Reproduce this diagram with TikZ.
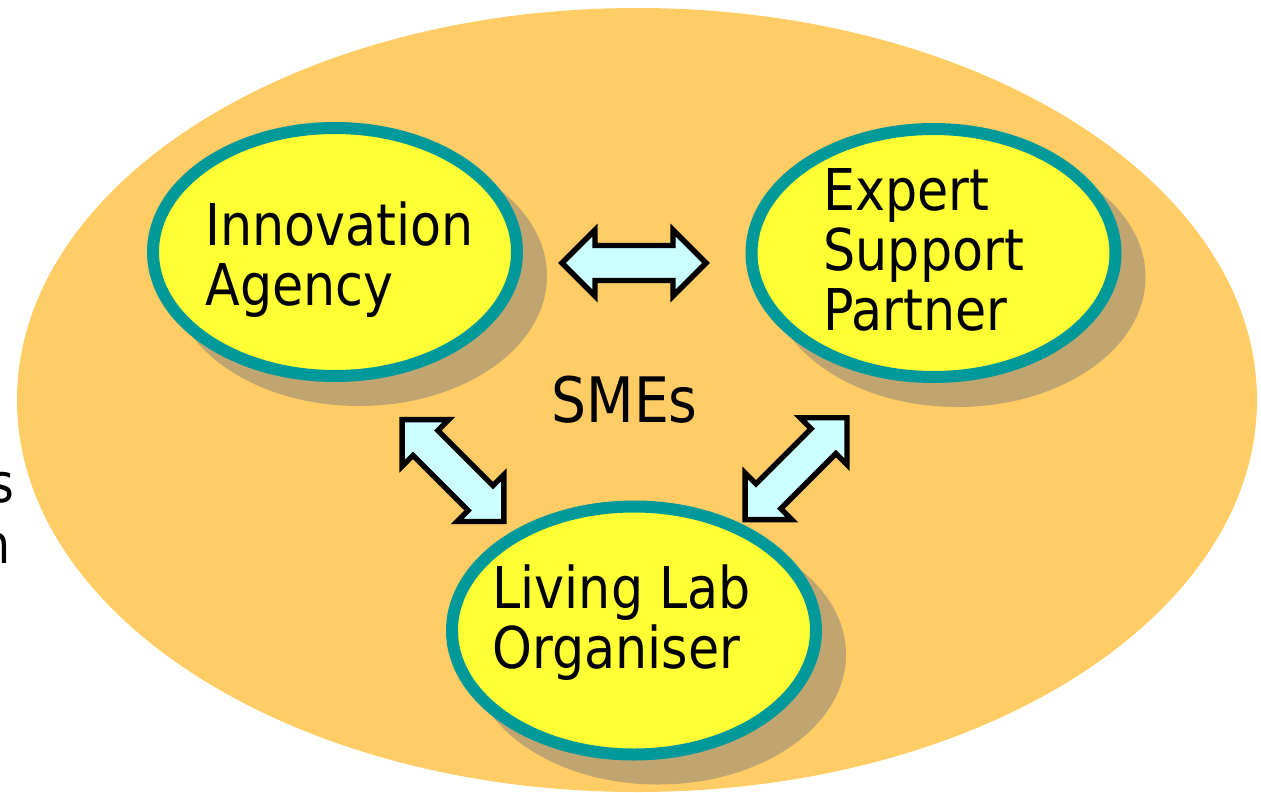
\documentclass[tikz,border=0pt]{standalone}
\usepackage{fontspec}
\setmainfont{DejaVu Sans}[FakeStretch=0.88]
\usetikzlibrary{shapes.geometric,shapes.arrows}

\definecolor{smeorange}{RGB}{255,204,102}
\definecolor{partyellow}{RGB}{255,255,51}
\definecolor{partteal}{RGB}{0,153,153}
\definecolor{shadowtan}{RGB}{193,165,112}
\definecolor{arrowcyan}{RGB}{204,255,255}

\tikzset{every picture/.style={line width=0.75pt}}
\tikzset{
  partner/.style={ellipse, draw=partteal, fill=partyellow, line width=9pt,
    minimum width=273pt, minimum height=186pt, inner sep=0pt},
  lbl/.style={font=\fontsize{43.2}{45}\selectfont, align=left, inner sep=0pt, anchor=base west},
  dblarrow/.style={double arrow, draw=black, fill=arrowcyan, line width=4pt,
    minimum height=108pt, inner sep=0pt, inner ysep=11.15pt,
    double arrow head extend=11.6pt, double arrow tip angle=90}
}

\begin{document}
\begin{tikzpicture}[x=0.75pt,y=0.75pt,yscale=-1,xscale=1]
	\useasboundingbox (0,0) rectangle (1261,793);
	
	%Shape: Ellipse [SMEs]
	\fill [smeorange] (637,400) ellipse [x radius=620, y radius=392];
	
	% centres of the partners
	\coordinate (cIA) at (335,252);
	\coordinate (cES) at (933.5,253);
	\coordinate (cLL) at (634,630.5);
	
	%Shape: Shadows
	\fill [shadowtan] ([shift={(24,24)}]cIA) ellipse [x radius=188, y radius=130];
	\fill [shadowtan] ([shift={(24,24)}]cES) ellipse [x radius=188, y radius=130];
	\fill [shadowtan] ([shift={(24,24)}]cLL) ellipse [x radius=188, y radius=130];
	
	%Shape: Ellipses
	\node [partner] (ia) at (cIA) {};
	\node [partner] (es) at (cES) {};
	\node [partner] (ll) at (cLL) {};
	
	% Text Node (base = last line)
	\node [lbl] (iaText) at (205,305) {Innovation\\Agency};
	% Text Node
	\node [lbl] (esText) at (823,330) {Expert\\Support\\Partner};
	% Text Node
	\node [lbl] (llText) at (492,668) {Living Lab\\Organiser};
	% Text Node
	\node [lbl, font=\fontsize{47}{49}\selectfont] (smes) at (551,422) {SMEs};
	
	%Shape: Double Arrows
	\node [dblarrow] (arIE) at (634,263) {};
	\node [dblarrow, rotate=-45] (arIL) at (453,470.5) {};
	\node [dblarrow, rotate=45] (arEL) at (796,468.7) {};
	
	% Text Node (cut at the left edge)
	\node [anchor=base east, inner sep=0pt, font=\fontsize{40.5}{42}\selectfont] (fragS) at (15,502) {s};
	\node [anchor=base east, inner sep=0pt, font=\fontsize{40.5}{42}\selectfont] (fragN) at (11,563) {n};
	
\end{tikzpicture}
\end{document}
